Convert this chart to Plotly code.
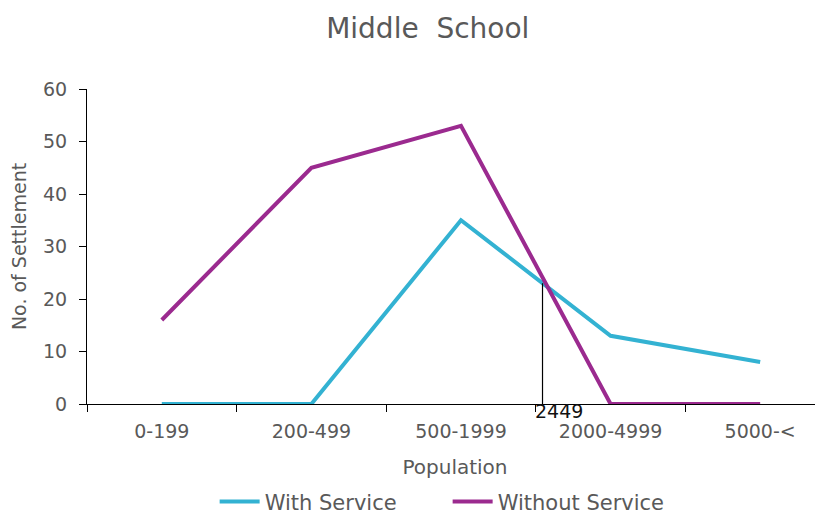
import plotly.graph_objects as go

categories = ["0-199", "200-499", "500-1999", "2000-4999", "5000-<"]
with_service = [0, 0, 35, 13, 8]
without_service = [16, 45, 53, 0, 0]
marker_x = 2.545
marker_y = 23
marker_label = "2449"

FONT = "DejaVu Sans"
GREY = "#595959"

fig = go.Figure()
fig.add_trace(go.Scatter(x=categories, y=with_service, mode="lines", name="With Service",
                         line=dict(color="#33B2D2", width=4)))
fig.add_trace(go.Scatter(x=categories, y=without_service, mode="lines", name="Without Service",
                         line=dict(color="#9B2A8F", width=4)))

fig.add_shape(type="line", x0=marker_x, x1=marker_x, y0=0, y1=marker_y,
              xref="x", yref="y", line=dict(color="black", width=1.2))
fig.add_annotation(x=marker_x, y=0, xref="x", yref="y", text=marker_label, showarrow=False,
                   xanchor="left", yanchor="top", xshift=-10, yshift=6,
                   font=dict(family=FONT, size=19, color="#111111"))

# page body has an 8px margin, so the figure is drawn 8px smaller and shifted
fig.update_layout(
    width=815, height=512,
    paper_bgcolor="white", plot_bgcolor="white",
    margin=dict(l=79, r=0, t=81, b=116, autoexpand=False),
    title=dict(text="Middle  School", x=0.463, xanchor="center", xref="paper",
               y=1 - 20 / 512, yref="container", yanchor="middle", automargin=False,
               font=dict(family=FONT, size=28, color=GREY)),
    font=dict(family=FONT, color=GREY),
    legend=dict(orientation="h", x=0.49, xanchor="center", y=-0.311, yanchor="middle",
                font=dict(family=FONT, size=21, color=GREY), itemwidth=40, tracegroupgap=0,
                entrywidth=178, entrywidthmode="pixels"),
    showlegend=True,
)
fig.update_xaxes(type="category", range=[-0.5, 4.42], showline=True, linecolor="black", linewidth=1,
                 ticks="outside", tickson="boundaries", ticklen=7, tickcolor="black",
                 showgrid=False, automargin=False, ticklabelstandoff=10,
                 tickfont=dict(family=FONT, size=19, color=GREY),
                 title=dict(text="Population", font=dict(family=FONT, size=20, color=GREY), standoff=19))
fig.update_yaxes(range=[0, 60], dtick=10, showline=True, linecolor="black", linewidth=1,
                 ticks="outside", ticklen=7, tickcolor="black", showgrid=False, zeroline=False,
                 automargin=False, ticklabelstandoff=8,
                 tickfont=dict(family=FONT, size=19, color=GREY),
                 title=dict(text="No. of Settlement", font=dict(family=FONT, size=19, color=GREY), standoff=12))

fig.write_html("out.html")
